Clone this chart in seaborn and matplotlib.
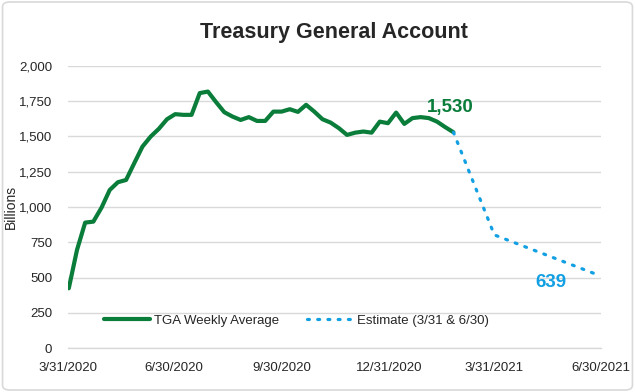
import pandas as pd
import numpy as np
import seaborn as sns
import matplotlib.pyplot as plt
from matplotlib.patches import FancyBboxPatch
from matplotlib.ticker import FuncFormatter

# --- data (billions) ---
tga_start = "2020-04-01"
tga_values = [425, 696, 890, 897, 996, 1121, 1176, 1192, 1311, 1428,
              1499, 1554, 1622, 1658, 1653, 1653, 1807, 1818, 1743, 1672,
              1641, 1617, 1637, 1610, 1610, 1676, 1676, 1693, 1674, 1724,
              1676, 1622, 1598, 1559, 1511, 1527, 1535, 1527, 1605, 1594,
              1669, 1589, 1630, 1637, 1630, 1605, 1566, 1530]
est_dates = ["2021-02-24", "2021-03-31", "2021-06-30"]
est_values = [1530, 803, 512]
x_ticks = ["2020-03-31", "2020-06-30", "2020-09-30", "2020-12-31",
           "2021-03-31", "2021-06-30"]
y_ticks = [0, 250, 500, 750, 1000, 1250, 1500, 1750, 2000]
last_label = "1,530"
est_label = "639"

tga = pd.DataFrame({"date": pd.date_range(tga_start, periods=len(tga_values), freq="7D"),
                    "value": tga_values})
est = pd.DataFrame({"date": pd.to_datetime(est_dates), "value": est_values})
tick_dates = pd.to_datetime(x_ticks)

GREEN = "#0b7d3b"
BLUE = "#12a0e3"
GRID = "#d9d9d9"

sns.set_style("white")
plt.rcParams['font.family'] = ['Liberation Sans', 'DejaVu Sans']

fig = plt.figure(figsize=(6.35, 3.92), dpi=100)
ax = fig.add_axes([0.1065, 0.1115, 0.8395, 0.7205])

# rounded light-gray frame around the whole chart
fig.patches.append(FancyBboxPatch((0.004, 0.005), 0.992, 0.99,
                                  boxstyle="round,pad=0,rounding_size=0.012",
                                  transform=fig.transFigure, fill=False,
                                  edgecolor=GRID, linewidth=1.2))

sns.lineplot(data=tga, x="date", y="value", ax=ax, color=GREEN, linewidth=3,
             label="TGA Weekly Average", zorder=3)
sns.lineplot(data=est, x="date", y="value", ax=ax, color=BLUE, linewidth=2.3,
             linestyle=(0, (0.6, 2.6)), dash_capstyle="round",
             label="Estimate (3/31 & 6/30)", zorder=3)

ax.set_xlim(tick_dates[0], tick_dates[-1])
ax.set_ylim(0, 2000)
ax.set_yticks(y_ticks)
ax.yaxis.set_major_formatter(FuncFormatter(lambda v, p: f"{int(v):,}"))
ax.set_xticks(tick_dates)
ax.set_xticklabels([f"{d.month}/{d.day}/{d.year}" for d in tick_dates])
ax.grid(axis="y", color=GRID, linewidth=1)
ax.set_axisbelow(True)

for s in ["top", "right", "left"]:
    ax.spines[s].set_visible(False)
ax.spines["bottom"].set_color(GRID)
ax.spines["bottom"].set_linewidth(1)
ax.tick_params(axis="x", length=4, color=GRID, labelsize=9.5, pad=6)
ax.tick_params(axis="y", length=0, labelsize=9.5, pad=11)
ax.set_xlabel("")
ax.set_ylabel("Billions", fontsize=10)
ax.yaxis.set_label_coords(-0.093, 0.5)

ax.set_title("Treasury General Account", fontsize=15.5, fontweight="bold", pad=20)

ax.annotate(last_label, xy=(tga["date"].iloc[-1], tga["value"].iloc[-1]),
            xytext=(-2, 17.5), textcoords="offset points", ha="center", va="center",
            color=GREEN, fontsize=13.5, fontweight="bold")
ax.text(pd.Timestamp("2021-05-18"), 463, est_label, ha="center", va="center",
        color=BLUE, fontsize=13.5, fontweight="bold")

leg = ax.legend(loc="center left", bbox_to_anchor=(0.068, 0.097), ncol=2, frameon=False,
                fontsize=9.5, handlelength=3.5, columnspacing=2.1, handletextpad=0.3,
                borderpad=0, borderaxespad=0)

fig.savefig("out.png", dpi=100)
